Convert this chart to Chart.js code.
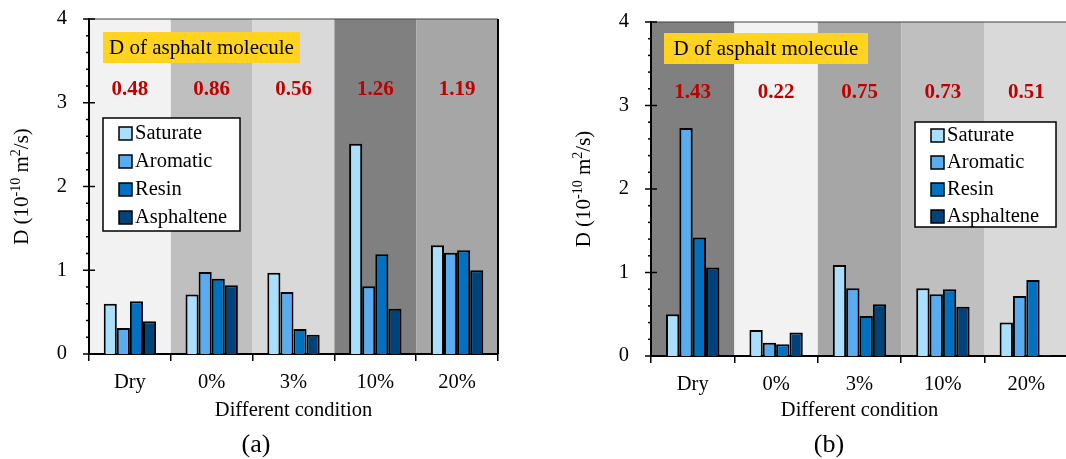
<!DOCTYPE html>
<html>
<head>
<meta charset="utf-8">
<script src="https://cdn.jsdelivr.net/npm/chart.js@4.4.1/dist/chart.umd.min.js"></script>
<style>
html, body { margin: 0; padding: 0; background: #fff; overflow: hidden; }
#wrap { position: relative; width: 1066px; height: 459px; overflow: hidden; }
#chartA { position: absolute; left: 0; top: 0; }
#chartB { position: absolute; left: 540px; top: 0; }
</style>
</head>
<body>
<div id="wrap">
  <canvas id="chartA" width="540" height="459"></canvas>
  <canvas id="chartB" width="530" height="459"></canvas>
</div>
<script>
// Categories and series
const conditions = ['Dry', '0%', '3%', '10%', '20%'];
const components = ['Saturate', 'Aromatic', 'Resin', 'Asphaltene'];
const yTicks = [0, 1, 2, 3, 4];

// (a)
const saturateA   = [0.60, 0.71, 0.97, 2.51, 1.30];
const aromaticA   = [0.31, 0.98, 0.74, 0.81, 1.21];
const resinA      = [0.63, 0.90, 0.30, 1.19, 1.24];
const asphalteneA = [0.39, 0.82, 0.23, 0.54, 1.00];
const moleculeDA  = [0.48, 0.86, 0.56, 1.26, 1.19];

// (b)
const saturateB   = [0.50, 0.31, 1.09, 0.81, 0.40];
const aromaticB   = [2.73, 0.16, 0.81, 0.74, 0.72];
const resinB      = [1.42, 0.14, 0.48, 0.80, 0.91];
const asphalteneB = [1.06, 0.28, 0.62, 0.59, 0.01];
const moleculeDB  = [1.43, 0.22, 0.75, 0.73, 0.51];

const barColors = ['#A9DFFA', '#5AACF0', '#0070C0', '#00437A'];
const bandColorsA = ['#F2F2F2', '#BFBFBF', '#D9D9D9', '#808080', '#A6A6A6'];
const bandColorsB = ['#808080', '#F2F2F2', '#A6A6A6', '#BFBFBF', '#D9D9D9'];

const SERIF = "'Liberation Serif', 'Times New Roman', serif";

// Draws background bands, extra ticks, labels, legend etc.
const decorPlugin = {
  id: 'decor',
  beforeDraw(chart, args, opts) {
    const ctx = chart.ctx;
    const area = chart.chartArea;
    const x = chart.scales.x;
    const step = (area.right - area.left) / conditions.length;
    ctx.save();
    opts.bands.forEach((c, i) => {
      const cx = x.getPixelForValue(i);
      ctx.fillStyle = c;
      ctx.fillRect(cx - step / 2, area.top, step, area.bottom - area.top);
    });
    ctx.restore();
  },
  afterDatasetsDraw(chart, args, opts) {
    const ctx = chart.ctx;
    const area = chart.chartArea;
    const x = chart.scales.x;
    const y = chart.scales.y;
    ctx.save();

    // yellow label
    const yb = opts.yellow;
    ctx.fillStyle = '#FFD320';
    ctx.fillRect(area.left + yb.x, yb.y, yb.w, yb.h);
    ctx.fillStyle = '#000';
    ctx.font = '21px ' + SERIF;
    ctx.textAlign = 'center';
    ctx.textBaseline = 'middle';
    ctx.fillText('D of asphalt molecule', area.left + yb.x + yb.w / 2, yb.y + yb.h / 2 + 1);

    // molecule D values
    ctx.fillStyle = '#C00000';
    ctx.font = 'bold 21px ' + SERIF;
    opts.values.forEach((v, i) => {
      ctx.fillText(v.toFixed(2), x.getPixelForValue(i), y.getPixelForValue(3.16));
    });

    // legend box
    const lg = opts.legend;
    const lx = area.left + lg.x;
    ctx.fillStyle = '#fff';
    ctx.fillRect(lx, lg.y, lg.w, lg.h);
    ctx.strokeStyle = '#000';
    ctx.lineWidth = 1.5;
    ctx.strokeRect(lx, lg.y, lg.w, lg.h);
    ctx.font = '20.5px ' + SERIF;
    ctx.textAlign = 'left';
    chart.data.datasets.forEach((ds, i) => {
      const ry = lg.y + lg.first + i * lg.gap;
      ctx.fillStyle = ds.backgroundColor;
      ctx.fillRect(lx + 16, ry - 6, 13, 13);
      ctx.lineWidth = 1.5;
      ctx.strokeRect(lx + 16, ry - 6, 13, 13);
      ctx.fillStyle = '#000';
      ctx.fillText(ds.label, lx + 32, ry + 1);
    });
    ctx.restore();
  },
  afterDraw(chart, args, opts) {
    const ctx = chart.ctx;
    const area = chart.chartArea;
    const y = chart.scales.y;
    ctx.save();
    // plot border top / right
    ctx.strokeStyle = '#404040';
    ctx.lineWidth = 1.2;
    ctx.beginPath();
    ctx.moveTo(area.left, area.top);
    ctx.lineTo(area.right, area.top);
    ctx.stroke();
    ctx.strokeStyle = '#000';
    ctx.lineWidth = 2;
    ctx.beginPath();
    ctx.moveTo(area.right, area.top);
    ctx.lineTo(area.right, area.bottom);
    ctx.stroke();

    // y ticks: major cross the axis, minor outside
    ctx.lineWidth = 1.5;
    for (let k = 0; k <= 20; k++) {
      const py = y.getPixelForValue(k * 0.2);
      ctx.beginPath();
      if (k % 5 === 0) {
        ctx.moveTo(area.left - 6, py);
        ctx.lineTo(area.left + 6, py);
      } else {
        ctx.moveTo(area.left - 3, py);
        ctx.lineTo(area.left, py);
      }
      ctx.stroke();
    }

    // y title with superscripts
    const parts = [
      { t: 'D (10', s: 21, dy: 0 },
      { t: '-10', s: 14, dy: -8 },
      { t: ' m', s: 21, dy: 0 },
      { t: '2', s: 14, dy: -8 },
      { t: '/s)', s: 21, dy: 0 }
    ];
    let total = 0;
    parts.forEach(p => { ctx.font = p.s + 'px ' + SERIF; p.w = ctx.measureText(p.t).width; total += p.w; });
    ctx.translate(opts.yTitleX, (area.top + area.bottom) / 2);
    ctx.rotate(-Math.PI / 2);
    ctx.fillStyle = '#000';
    ctx.textAlign = 'left';
    ctx.textBaseline = 'alphabetic';
    let px = -total / 2;
    parts.forEach(p => {
      ctx.font = p.s + 'px ' + SERIF;
      ctx.fillText(p.t, px, 7 + p.dy);
      px += p.w;
    });
    ctx.setTransform(1, 0, 0, 1, 0, 0);

    // panel label
    ctx.font = '26px ' + SERIF;
    ctx.textAlign = 'center';
    ctx.textBaseline = 'middle';
    ctx.fillText(opts.panel, opts.panelX, 445);
    ctx.restore();
  }
};

function makeChart(id, series, setup) {
  return new Chart(document.getElementById(id), {
    type: 'bar',
    data: {
      labels: conditions,
      datasets: components.map((name, i) => ({
        label: name,
        data: series[i],
        backgroundColor: barColors[i],
        borderColor: '#000',
        borderWidth: 2,
        barPercentage: 1,
        categoryPercentage: 0.64
      }))
    },
    options: {
      responsive: false,
      animation: false,
      layout: { padding: { left: 0, right: setup.padRight, top: setup.padTop, bottom: 0 } },
      scales: {
        x: {
          afterFit: s => { s.height = setup.xHeight; s.paddingLeft = 0; s.paddingRight = 0; },
          grid: { drawOnChartArea: false, tickLength: 7, color: '#000', lineWidth: 1.5 },
          border: { display: true, color: '#000', width: 2 },
          ticks: { color: '#000', font: { family: SERIF, size: 20.5 }, padding: 9 },
          title: {
            display: true, text: 'Different condition', color: '#000',
            font: { family: SERIF, size: 20.5 }, padding: { top: 0, bottom: 36 }
          }
        },
        y: {
          min: 0, max: 4,
          afterFit: s => { s.width = setup.yWidth; s.paddingTop = 0; s.paddingBottom = 0; },
          afterBuildTicks: s => { s.ticks = yTicks.map(v => ({ value: v })); },
          grid: { display: false, drawTicks: false },
          border: { display: true, color: '#000', width: 2 },
          ticks: { color: '#000', font: { family: SERIF, size: 20.5 }, padding: 22 }
        }
      },
      plugins: {
        legend: { display: false },
        tooltip: { enabled: false },
        decor: setup.decor
      }
    },
    plugins: [decorPlugin]
  });
}

makeChart('chartA', [saturateA, aromaticA, resinA, asphalteneA], {
  padRight: 42, padTop: 19, xHeight: 105, yWidth: 89,
  decor: {
    bands: bandColorsA,
    values: moleculeDA,
    yellow: { x: 14, y: 32, w: 197, h: 31 },
    legend: { x: 14, y: 118, w: 137, h: 113, first: 15, gap: 28 },
    yTitleX: 21,
    panel: '(a)', panelX: 256
  }
});

makeChart('chartB', [saturateB, aromaticB, resinB, asphalteneB], {
  padRight: 2, padTop: 22, xHeight: 103, yWidth: 111,
  decor: {
    bands: bandColorsB,
    values: moleculeDB,
    yellow: { x: 13, y: 33, w: 204, h: 31 },
    legend: { x: 264, y: 122, w: 141, h: 105, first: 13, gap: 27 },
    yTitleX: 43,
    panel: '(b)', panelX: 289
  }
});
</script>
</body>
</html>
